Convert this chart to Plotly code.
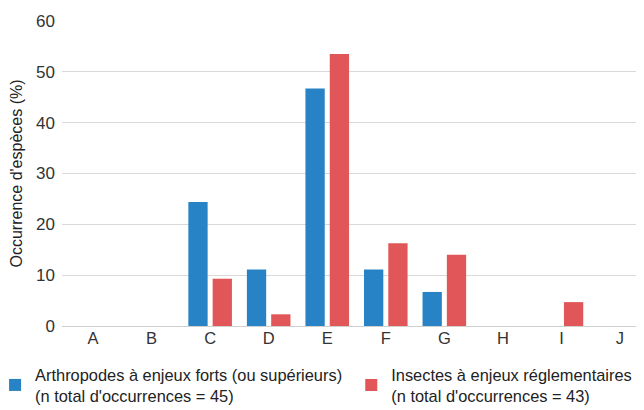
import plotly.graph_objects as go

categories = ["A", "B", "C", "D", "E", "F", "G", "H", "I", "J"]
arthropodes = [0, 0, 24.4, 11.1, 46.7, 11.1, 6.7, 0, 0, 0]
insectes = [0, 0, 9.3, 2.3, 53.5, 16.3, 14.0, 0, 4.7, 0]
name_a = "Arthropodes à enjeux forts (ou supérieurs)<br>(n total d'occurrences = 45)"
name_i = "Insectes à enjeux réglementaires<br>(n total d'occurrences = 43)"
y_ticks = [0, 10, 20, 30, 40, 50, 60]

fig = go.Figure()
fig.add_trace(go.Bar(x=categories, y=arthropodes, name=name_a, legend="legend",
                     marker=dict(color="#2783C5", line=dict(width=0))))
fig.add_trace(go.Bar(x=categories, y=insectes, name=name_i, legend="legend2",
                     marker=dict(color="#E15759", line=dict(width=0))))

legend_common = dict(orientation="h", yanchor="top", y=-0.102, xanchor="left",
                     font=dict(size=16.4, color="#222"), itemwidth=30,
                     bgcolor="rgba(0,0,0,0)")

fig.update_layout(
    width=636, height=402,
    margin=dict(l=54, r=0, t=13, b=84, autoexpand=False),
    paper_bgcolor="white", plot_bgcolor="white",
    font=dict(family="Liberation Sans, Arial, sans-serif", size=16, color="#222"),
    barmode="group", bargap=0.17, bargroupgap=0.206,
    showlegend=True,
    legend=dict(x=-0.115, **legend_common),
    legend2=dict(x=0.497, **legend_common),
    xaxis=dict(range=[-0.53, 9.41], showgrid=False, showline=False, ticks="",
               tickfont=dict(size=16.5, color="#333")),
    yaxis=dict(range=[0, 60], tickvals=y_ticks, showgrid=True, gridcolor="#D9D9D9",
               gridwidth=1, zeroline=True, zerolinecolor="#D0D0D0", zerolinewidth=1,
               ticks="", ticklabelstandoff=6, tickfont=dict(size=17, color="#333"),
               title=dict(text="Occurrence d'espèces (%)", font=dict(size=16, color="#222"),
                          standoff=12)),
)

fig.write_html("out.html")
